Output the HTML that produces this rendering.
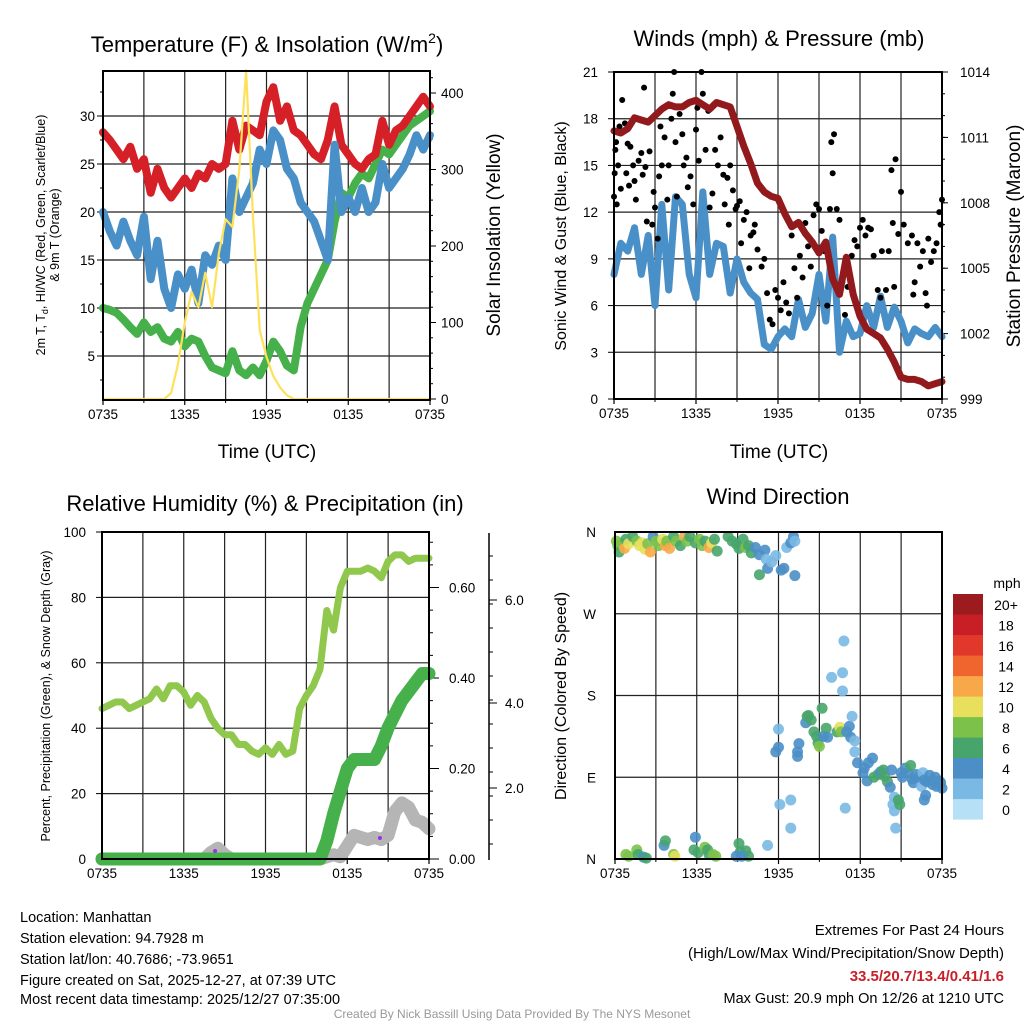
<!DOCTYPE html>
<html><head><meta charset="utf-8">
<style>
html,body{margin:0;padding:0;background:#fff;}
svg{display:block;font-family:"Liberation Sans",Arial,sans-serif;}
</style></head>
<body>
<svg id="chart" width="1024" height="1024" viewBox="0 0 1024 1024" xmlns="http://www.w3.org/2000/svg">
<g id="g1"></g>
<g id="g2"></g>
<g id="g3"></g>
<g id="g4"></g>
<g font-size="22" text-anchor="middle">
<text x="267" y="52">Temperature (F) &amp; Insolation (W/m<tspan dy="-9" font-size="14">2</tspan><tspan dy="9">)</tspan></text>
<text x="779" y="46">Winds (mph) &amp; Pressure (mb)</text>
<text x="265" y="511">Relative Humidity (%) &amp; Precipitation (in)</text>
<text x="778" y="504">Wind Direction</text>
</g>
<g font-size="19" text-anchor="middle">
<text x="267" y="458">Time (UTC)</text>
<text x="779" y="458">Time (UTC)</text>
<text transform="translate(500,235) rotate(-90)">Solar Insolation (Yellow)</text>
<text transform="translate(1020,236) rotate(-90)">Station Pressure (Maroon)</text>
</g>
<g font-size="12.5" text-anchor="middle">
<text transform="translate(45,235) rotate(-90)">2m T, T<tspan font-size="9" dy="3">d</tspan><tspan dy="-3">, HI/WC (Red, Green, Scarlet/Blue)</tspan></text>
<text transform="translate(59,235) rotate(-90)">&amp; 9m T (Orange)</text>
<text transform="translate(50,696) rotate(-90)">Percent, Precipitation (Green), &amp; Snow Depth (Gray)</text>
</g>
<g font-size="16" text-anchor="middle">
<text transform="translate(566,236) rotate(-90)">Sonic Wind &amp; Gust (Blue, Black)</text>
<text transform="translate(566,696) rotate(-90)">Direction (Colored By Speed)</text>
</g>
<g font-size="14.5">
<text x="20" y="922">Location: Manhattan</text>
<text x="20" y="943">Station elevation: 94.7928 m</text>
<text x="20" y="964">Station lat/lon: 40.7686; -73.9651</text>
<text x="20" y="985">Figure created on Sat, 2025-12-27, at 07:39 UTC</text>
<text x="20" y="1004">Most recent data timestamp: 2025/12/27 07:35:00</text>
</g>
<g font-size="15" text-anchor="end">
<text x="1004" y="935">Extremes For Past 24 Hours</text>
<text x="1004" y="958">(High/Low/Max Wind/Precipitation/Snow Depth)</text>
<text x="1004" y="981" fill="#c8202a" font-weight="bold">33.5/20.7/13.4/0.41/1.6</text>
<text x="1004" y="1003" font-size="14.5">Max Gust: 20.9 mph On 12/26 at 1210 UTC</text>
</g>
<text x="512" y="1018" font-size="12" fill="#999" text-anchor="middle">Created By Nick Bassill Using Data Provided By The NYS Mesonet</text>
</svg>
<script>
const hours = [];
for (let i = 0; i <= 48; i++) hours.push(i * 0.5);
const xTickLabels = ["0735","1335","1935","0135","0735"];
const tempRed = [28.3,27.5,26.5,25.5,26.8,24.5,25.5,22,24.5,22.5,21.5,22.5,23.5,22.5,24,23.5,25,24.5,25,29.5,26.5,29,28.5,28,31.5,33,29.5,31,28.5,28,27,26,25.5,27.5,31,27,26,25,24.5,25.5,26,29.5,27,28.5,29,30,31,32,31];
const tempBlue = [20,18,16.5,19,17,15.5,19.5,13,17,12,10,13.5,12,14,10.5,15.5,14.5,16.5,15,23.5,20,21.5,23,26.5,25,28.5,27.5,24.5,23.5,21,20,19,17,15,27,20,21.5,20,22.5,20,21,25,22.5,23.5,24.5,26,28,26.5,28];
const tempGreen = [10,9.8,9.5,8.8,8,7.3,8.5,7.5,8,6.8,6.5,7.5,6,6.8,6.5,5,3.8,3.5,3.2,5.5,3.5,3,3.8,3,4.5,6.5,5.5,4,3.5,8,10.5,12,13.5,15,19,22,21.5,23,24,23.5,25,26.5,26,27,28,29,29.5,30,30.5];
const solar = [0,0,0,0,0,0,0,0,0,0,8,45,100,140,120,165,120,190,235,225,300,430,240,90,55,30,15,5,0,0,0,0,0,0,0,0,0,0,0,0,0,0,0,0,0,0,0,0,0];
const tempTicks = [5,10,15,20,25,30];
const solarTicks = [0,100,200,300,400];
const windBlue = [8,10,9.5,11,8,10.5,6,12.5,7,13,12.5,8,6.5,13.3,8,10,9.8,6.8,9,7.5,6.8,6.4,3.5,3.2,4,4.5,4,6.4,4.6,5.5,8,5,10.4,3,5,4,4.2,6,4.6,6.6,4.6,5.9,5,3.6,4.5,4.2,4,4.6,4];
const pressure = [1011.3,1011.2,1011.4,1011.9,1011.8,1011.7,1012.0,1012.3,1012.5,1012.4,1012.4,1012.6,1012.7,1012.5,1012.3,1012.6,1012.5,1012.4,1011.5,1010.6,1009.8,1008.9,1008.5,1008.3,1008.2,1007.5,1006.9,1007.1,1006.6,1006.2,1005.7,1006.2,1004.5,1003.8,1005.5,1003.8,1002.8,1002.2,1002.0,1001.8,1001.3,1000.7,1000.0,999.9,999.9,999.8,999.6,999.7,999.8];
const gustHours = [0,0.05,0.1,0.15,0.2,0.3,0.4,0.5,0.6,0.8,0.9,1.0,1.1,1.2,1.4,1.5,1.6,1.8,2.0,2.1,2.2,2.3,2.4,2.6,2.8,2.9,3.0,3.2,3.3,3.4,3.5,3.7,3.9,4.0,4.2,4.3,4.4,4.5,4.6,4.8,5.0,5.1,5.3,5.4,5.6,5.8,6.0,6.1,6.2,6.4,6.5,6.7,6.9,7.0,7.2,7.4,7.6,7.8,8.0,8.1,8.3,8.4,8.5,8.7,8.9,9.0,9.2,9.3,9.5,9.7,9.9,10.0,10.2,10.3,10.5,10.8,11.0,11.2,11.4,11.6,11.8,12.0,12.2,12.4,12.6,12.8,13.0,13.2,13.4,13.6,13.8,14.0,14.2,14.4,14.6,14.8,15.0,15.2,15.4,15.6,15.8,15.9,16.0,16.1,16.3,16.5,16.7,16.9,17.1,17.4,17.6,17.8,18.0,18.2,18.4,18.6,18.8,19.0,19.3,19.6,19.9,20.1,20.3,20.4,20.6,20.8,21.0,21.2,21.5,21.8,22.0,22.2,22.4,22.6,22.8,23.0,23.2,23.4,23.6,23.8,24.0,23.9,22.9,21.9,19.5,20.5];
const gustMph = [13,14.5,16,16.5,12.5,15,17.5,13.5,19.2,17.7,14.5,16.4,13.7,16.2,15,14,12.8,15.3,15.8,14.4,20,14.9,11.4,15.9,11.2,13.3,12.3,10.3,14.3,17.5,15,16.8,12.8,15,18,19.6,21,16.5,13,18.3,17,15,15.5,13.6,14.3,12.5,17.3,18.7,15.3,21,19.6,16,18.5,12.3,13.2,16,15,16.8,14.4,12.5,14.2,11.2,15,13.4,12.2,12.4,12.7,10,11.5,12,8.4,10.5,10.7,11.2,9.6,8.5,9,6.8,5.1,4.8,7,6.5,5.7,7.5,6.2,5.5,10.5,8.4,6.5,9.2,7.8,11.3,9.8,8.5,11.8,12.5,12.2,10.8,9.5,6,12.2,16.5,14.5,17,12.2,11.5,7.5,5.4,7.2,9.2,10.2,9.8,11,11.5,10.5,11,10.9,9.2,7,9.5,7,9.5,14.7,11.3,15.4,10.6,13.3,11.2,10,10.5,7.5,10,8.5,9.5,6.8,10.3,8.8,9.5,10,12,12.8,11.2,6,6.7,6.5,7.2];
const windTicks = [0,3,6,9,12,15,18,21];
const pressureTicks = [999,1002,1005,1008,1011,1014];
const rh = [46,47,48,48,46,47,48,49,52,49,53,53,51,47,50,48,43,40,38,38,35,35,33,32,34,32,35,32,33,46,50,53,58,76,70,83,88,88,88,89,88,86,91,93,93,91,92,92,92];
const precip = [0,0,0,0,0,0,0,0,0,0,0,0,0,0,0,0,0,0,0,0,0,0,0,0,0,0,0,0,0,0,0,0,0,0.04,0.10,0.15,0.20,0.22,0.22,0.22,0.22,0.25,0.29,0.32,0.35,0.37,0.39,0.41,0.41];
const snow = [0,0,0,0,0,0,0,0,0,0,0,0,0,0,0,0,0.15,0.25,0.1,0,0,0,0,0,0,0,0,0,0,0,0,0,0,0.05,0.1,0.05,0.3,0.55,0.5,0.45,0.5,0.45,0.55,1.1,1.3,1.2,0.9,0.85,0.7];
const rhTicks = [0,20,40,60,80,100];
const precipTicks = [0,0.2,0.4,0.6];
const snowTickLabels = ["2.0","4.0","6.0"];
const dirHours = [0.1,0.2,0.3,0.5,0.7,0.8,1.0,1.3,1.6,1.8,2.0,2.2,2.4,2.6,2.8,3.0,3.2,3.5,3.7,3.8,4.0,4.3,4.5,4.8,5.1,5.3,5.5,5.9,6.2,6.4,6.6,6.9,7.1,7.3,7.5,8.3,8.6,8.9,9.1,9.4,9.6,9.8,10.0,10.3,10.6,11.0,11.1,11.2,11.5,11.8,12.2,12.4,12.6,12.9,13.2,10.6,13.1,13.2,
0.8,1.0,1.6,1.7,2.1,2.3,3.6,3.7,4.3,4.4,5.9,5.8,6.1,6.6,6.8,6.9,7.2,7.4,9.1,9.2,8.9,9.6,9.8,11.2,9.3,
11.8,12.0,12.0,12.1,12.9,12.9,13.4,13.4,13.5,14.0,14.1,14.4,14.2,14.6,14.8,14.9,15.0,15.3,15.5,15.2,15.6,15.9,16.3,16.5,16.6,16.7,16.8,16.7,16.9,17.0,17.2,17.3,17.4,17.6,17.6,17.8,18.3,18.6,18.9,18.2,18.5,19.0,19.3,19.5,19.7,19.8,20.0,20.2,20.5,20.4,20.5,20.6,20.8,20.9,21.1,21.3,21.5,21.7,21.8,21.9,22.1,22.3,22.5,22.6,22.7,22.9,23.1,23.3,23.5,23.6,23.8,23.9,24.0,22.8,22.7,21.0,20.3];
const dirDeg = [350,345,338,347,342,352,347,355,350,345,348,341,347,338,355,350,345,352,345,350,342,355,350,345,355,350,355,348,352,345,350,343,348,352,339,355,350,347,342,352,343,345,337,343,335,340,330,320,327,334,318,320,343,348,312,313,355,350,
5,3,10,5,2,1,15,20,5,3,24,10,7,13,10,5,5,3,17,8,3,9,3,15,3,
118,123,143,60,65,34,118,113,127,150,157,153,158,140,135,128,124,135,144,166,134,200,140,145,140,205,240,185,56,140,146,134,157,130,118,106,100,106,111,95,86,90,93,96,98,91,85,79,68,60,53,34,65,60,90,100,95,103,88,84,93,90,80,95,87,85,92,82,90,80,86,84,78,70,65,95,98];
const dirSpeed = [8,8,7,9,13,7,10,6,9,10,10,10,8,12,4,8,9,10,12,9,12,7,8,7,13,9,6,7,8,8,7,12,10,7,6,7,6,7,7,6,8,6,6,4,4,4,2,4,3,3,4,4,2,4,4,6,4,2,
8,8,8,6,4,6,4,6,8,10,4,6,6,8,6,6,8,8,6,6,4,6,6,2,4,
4,4,2,2,2,2,4,4,4,4,6,6,6,6,6,6,8,4,6,6,4,2,6,10,8,2,2,2,2,4,4,4,2,2,2,4,4,4,4,4,4,6,6,4,6,6,6,4,2,2,2,2,6,6,4,4,4,6,4,4,4,4,2,2,4,4,4,4,4,4,4,4,4,4,4,4,4];
const dirLabels = ["N","E","S","W","N"];
const speedLabels = ["0","2","4","6","8","10","12","14","16","18","20+"];
const speedColors = ["#b5e0f6","#7ab9e3","#4b8fc6","#47a56b","#7cc24a","#e8e05c","#f8a848","#f0652d","#e2382b","#c81f27","#9b1b1e"];

const NS = "http://www.w3.org/2000/svg";
function mk(parent, tag, attrs) {
  const e = document.createElementNS(NS, tag);
  for (const k in attrs) e.setAttribute(k, attrs[k]);
  parent.appendChild(e);
  return e;
}
function lin(d0, d1, r0, r1) { return v => r0 + (v - d0) * (r1 - r0) / (d1 - d0); }

function frame(g, L, R, T, B) {
  const xs = lin(0, 24, L, R);
  for (let h = 3; h < 24; h += 3) {
    const v = mk(g, "line", {x1: xs(h), x2: xs(h), y1: T, y2: B, stroke: "#222", "stroke-width": 1.2});
    
    
  }
  for (let i = 0; i < 5; i++) {
    const t = mk(g, "text", {x: xs(i * 6), y: B + 19, "font-size": 13.5, "text-anchor": "middle"});
    t.textContent = xTickLabels[i];
    
    
    mk(g, "line", {x1: xs(i * 6), x2: xs(i * 6), y1: B, y2: B + 5, stroke: "#000", "stroke-width": 1.2});
  }
  for (let h = 3; h < 24; h += 6) mk(g, "line", {x1: xs(h), x2: xs(h), y1: B, y2: B + 3, stroke: "#000"});
  return xs;
}
function hgrid(g, L, R, y) {
  const l = mk(g, "line", {x1: L, x2: R, y1: y, y2: y, stroke: "#222", "stroke-width": 1.2});
  
  
}
function border(g, L, R, T, B) {
  const r = mk(g, "rect", {x: L, y: T, width: R - L, height: B - T, fill: "none", stroke: "#000", "stroke-width": 2});
  
  
}
function line(g, xs, ys, xv, yv, color, w, name) {
  const pts = xv.map((x, i) => xs(x).toFixed(1) + "," + ys(yv[i]).toFixed(1)).join(" ");
  const p = mk(g, "polyline", {points: pts, fill: "none", stroke: color, "stroke-width": w, "stroke-linejoin": "round", "stroke-linecap": "round"});
  
  
  return p;
}
function label(g, x, y, txt, anchor, size) {
  const t = mk(g, "text", {x: x, y: y, "font-size": size || 13.5, "text-anchor": anchor});
  t.textContent = txt;
  
  
}

// Panel 1: temperature
(function () {
  const g = document.getElementById("g1");
  const L = 103, R = 430, T = 71, B = 400;
  const xs = frame(g, L, R, T, B);
  const ys = lin(0, 35, 404, 68);
  const ss = lin(0, 400, 399, 93);
  tempTicks.forEach(v => { hgrid(g, L, R, ys(v)); label(g, L - 8, ys(v) + 5, String(v), "end"); mk(g, "line", {x1: L - 6, x2: L, y1: ys(v), y2: ys(v), stroke: "#000"}); });
  for (let v = 2.5; v < 35; v += 5) mk(g, "line", {x1: L - 3, x2: L, y1: ys(v), y2: ys(v), stroke: "#000"});
  solarTicks.forEach(v => { label(g, R + 11, ss(v) + 5, String(v), "start"); mk(g, "line", {x1: R, x2: R + 6, y1: ss(v), y2: ss(v), stroke: "#000"}); });
  for (let v = 20; v < 430; v += 20) mk(g, "line", {x1: R, x2: R + 3, y1: ss(v), y2: ss(v), stroke: "#000"});
  line(g, xs, ys, hours, tempGreen, "#46b04a", 8, "dewpoint-line");
  line(g, xs, ys, hours, tempRed, "#d62027", 8, "temperature-line");
  line(g, xs, ys, hours, tempBlue, "#4a90c8", 8, "wind-chill-line");
  line(g, xs, ss, hours, solar, "#fde15a", 2.2, "solar-line");
  border(g, L, R, T, B);
})();

// Panel 2: winds
(function () {
  const g = document.getElementById("g2");
  const L = 614, R = 942, T = 72, B = 399;
  const xs = frame(g, L, R, T, B);
  const ys = lin(0, 21, B, T);
  const ps = lin(999, 1014, B, T);
  windTicks.forEach(v => { if (v > 0 && v < 21) hgrid(g, L, R, ys(v)); label(g, L - 16, ys(v) + 5, String(v), "end"); mk(g, "line", {x1: L - 6, x2: L, y1: ys(v), y2: ys(v), stroke: "#000"}); });
  pressureTicks.forEach(v => { label(g, R + 18, ps(v) + 5, String(v), "start"); mk(g, "line", {x1: R, x2: R + 6, y1: ps(v), y2: ps(v), stroke: "#000"}); });
  for (let v = 1000; v < 1014; v++) mk(g, "line", {x1: R, x2: R + 3, y1: ps(v), y2: ps(v), stroke: "#000"});
  line(g, xs, ys, hours, windBlue, "#4a90c8", 7, "wind-speed-line");
  gustHours.forEach((h, i) => {
    const c = mk(g, "circle", {cx: xs(h), cy: ys(gustMph[i]), r: 3, fill: "#000"});
    
    
  });
  line(g, xs, ps, hours, pressure, "#921a1d", 7, "pressure-line");
  border(g, L, R, T, B);
})();

// Panel 3: humidity
(function () {
  const g = document.getElementById("g3");
  const L = 102, R = 429, T = 532, B = 859;
  const xs = frame(g, L, R, T, B);
  const ys = lin(0, 100, B, T);
  const pr = lin(0, 0.2, B, B - 90.5);
  const sn = lin(0, 6, B, 600);
  rhTicks.forEach(v => { if (v > 0 && v < 100) hgrid(g, L, R, ys(v)); label(g, L - 16, ys(v) + 5, String(v), "end"); mk(g, "line", {x1: L - 6, x2: L, y1: ys(v), y2: ys(v), stroke: "#000"}); });
  precipTicks.forEach(v => { label(g, R + 20, pr(v) + 5, v.toFixed(2), "start"); mk(g, "line", {x1: R, x2: R + 10, y1: pr(v), y2: pr(v), stroke: "#000"}); });
  for (let v = 0.05; v < 0.72; v += 0.05) mk(g, "line", {x1: R, x2: R + 4, y1: pr(v), y2: pr(v), stroke: "#000"});
  const ax = mk(g, "line", {x1: 489, x2: 489, y1: 533, y2: 860, stroke: "#000", "stroke-width": 1.5});
  
  
  [788, 703, 600].forEach((y, i) => { label(g, 505, y + 5, snowTickLabels[i], "start"); mk(g, "line", {x1: 489, x2: 497, y1: y, y2: y, stroke: "#000"}); });
  for (let y = 556; y < 860; y += 24) mk(g, "line", {x1: 489, x2: 493, y1: y, y2: y, stroke: "#000"});
  line(g, xs, sn, hours, snow, "#b5b5b5", 13, "snow-depth-line");
  line(g, xs, ys, hours, rh, "#8fc84c", 7, "humidity-line");
  line(g, xs, pr, hours, precip, "#46b04a", 13, "precip-line");
  mk(g, "circle", {cx: xs(8.3), cy: 851, r: 2, fill: "#9b30e0"});
  mk(g, "circle", {cx: xs(20.4), cy: 838, r: 2, fill: "#9b30e0"});
  border(g, L, R, T, B);
})();

// Panel 4: wind direction
(function () {
  const g = document.getElementById("g4");
  const L = 615, R = 942, T = 532, B = 859;
  const xs = frame(g, L, R, T, B);
  const ys = lin(0, 360, B, T);
  dirLabels.forEach((t, i) => { const v = i * 90; if (v > 0 && v < 360) hgrid(g, L, R, ys(v)); label(g, 596, ys(v) + 5, t, "end"); });
  dirHours.forEach((h, i) => {
    const idx = Math.min(10, Math.floor(dirSpeed[i] / 2));
    const c = mk(g, "circle", {cx: xs(h), cy: ys(dirDeg[i]), r: 5.5, fill: speedColors[idx], "fill-opacity": 0.9});
    
    
  });
  border(g, L, R, T, B);
  const cb = mk(g, "g", {});
  
  
  const t = mk(cb, "text", {x: 1007, y: 588, "font-size": 14, "text-anchor": "middle"});
  t.textContent = "mph";
  speedColors.forEach((c, i) => {
    const y = 594 + (10 - i) * 20.5;
    const r = mk(cb, "rect", {x: 953, y: y, width: 30, height: 20.6, fill: c});
    
    
    const l = mk(cb, "text", {x: 1006, y: y + 16, "font-size": 14, "text-anchor": "middle"});
    l.textContent = speedLabels[i];
  });
})();
</script>
</body></html>
